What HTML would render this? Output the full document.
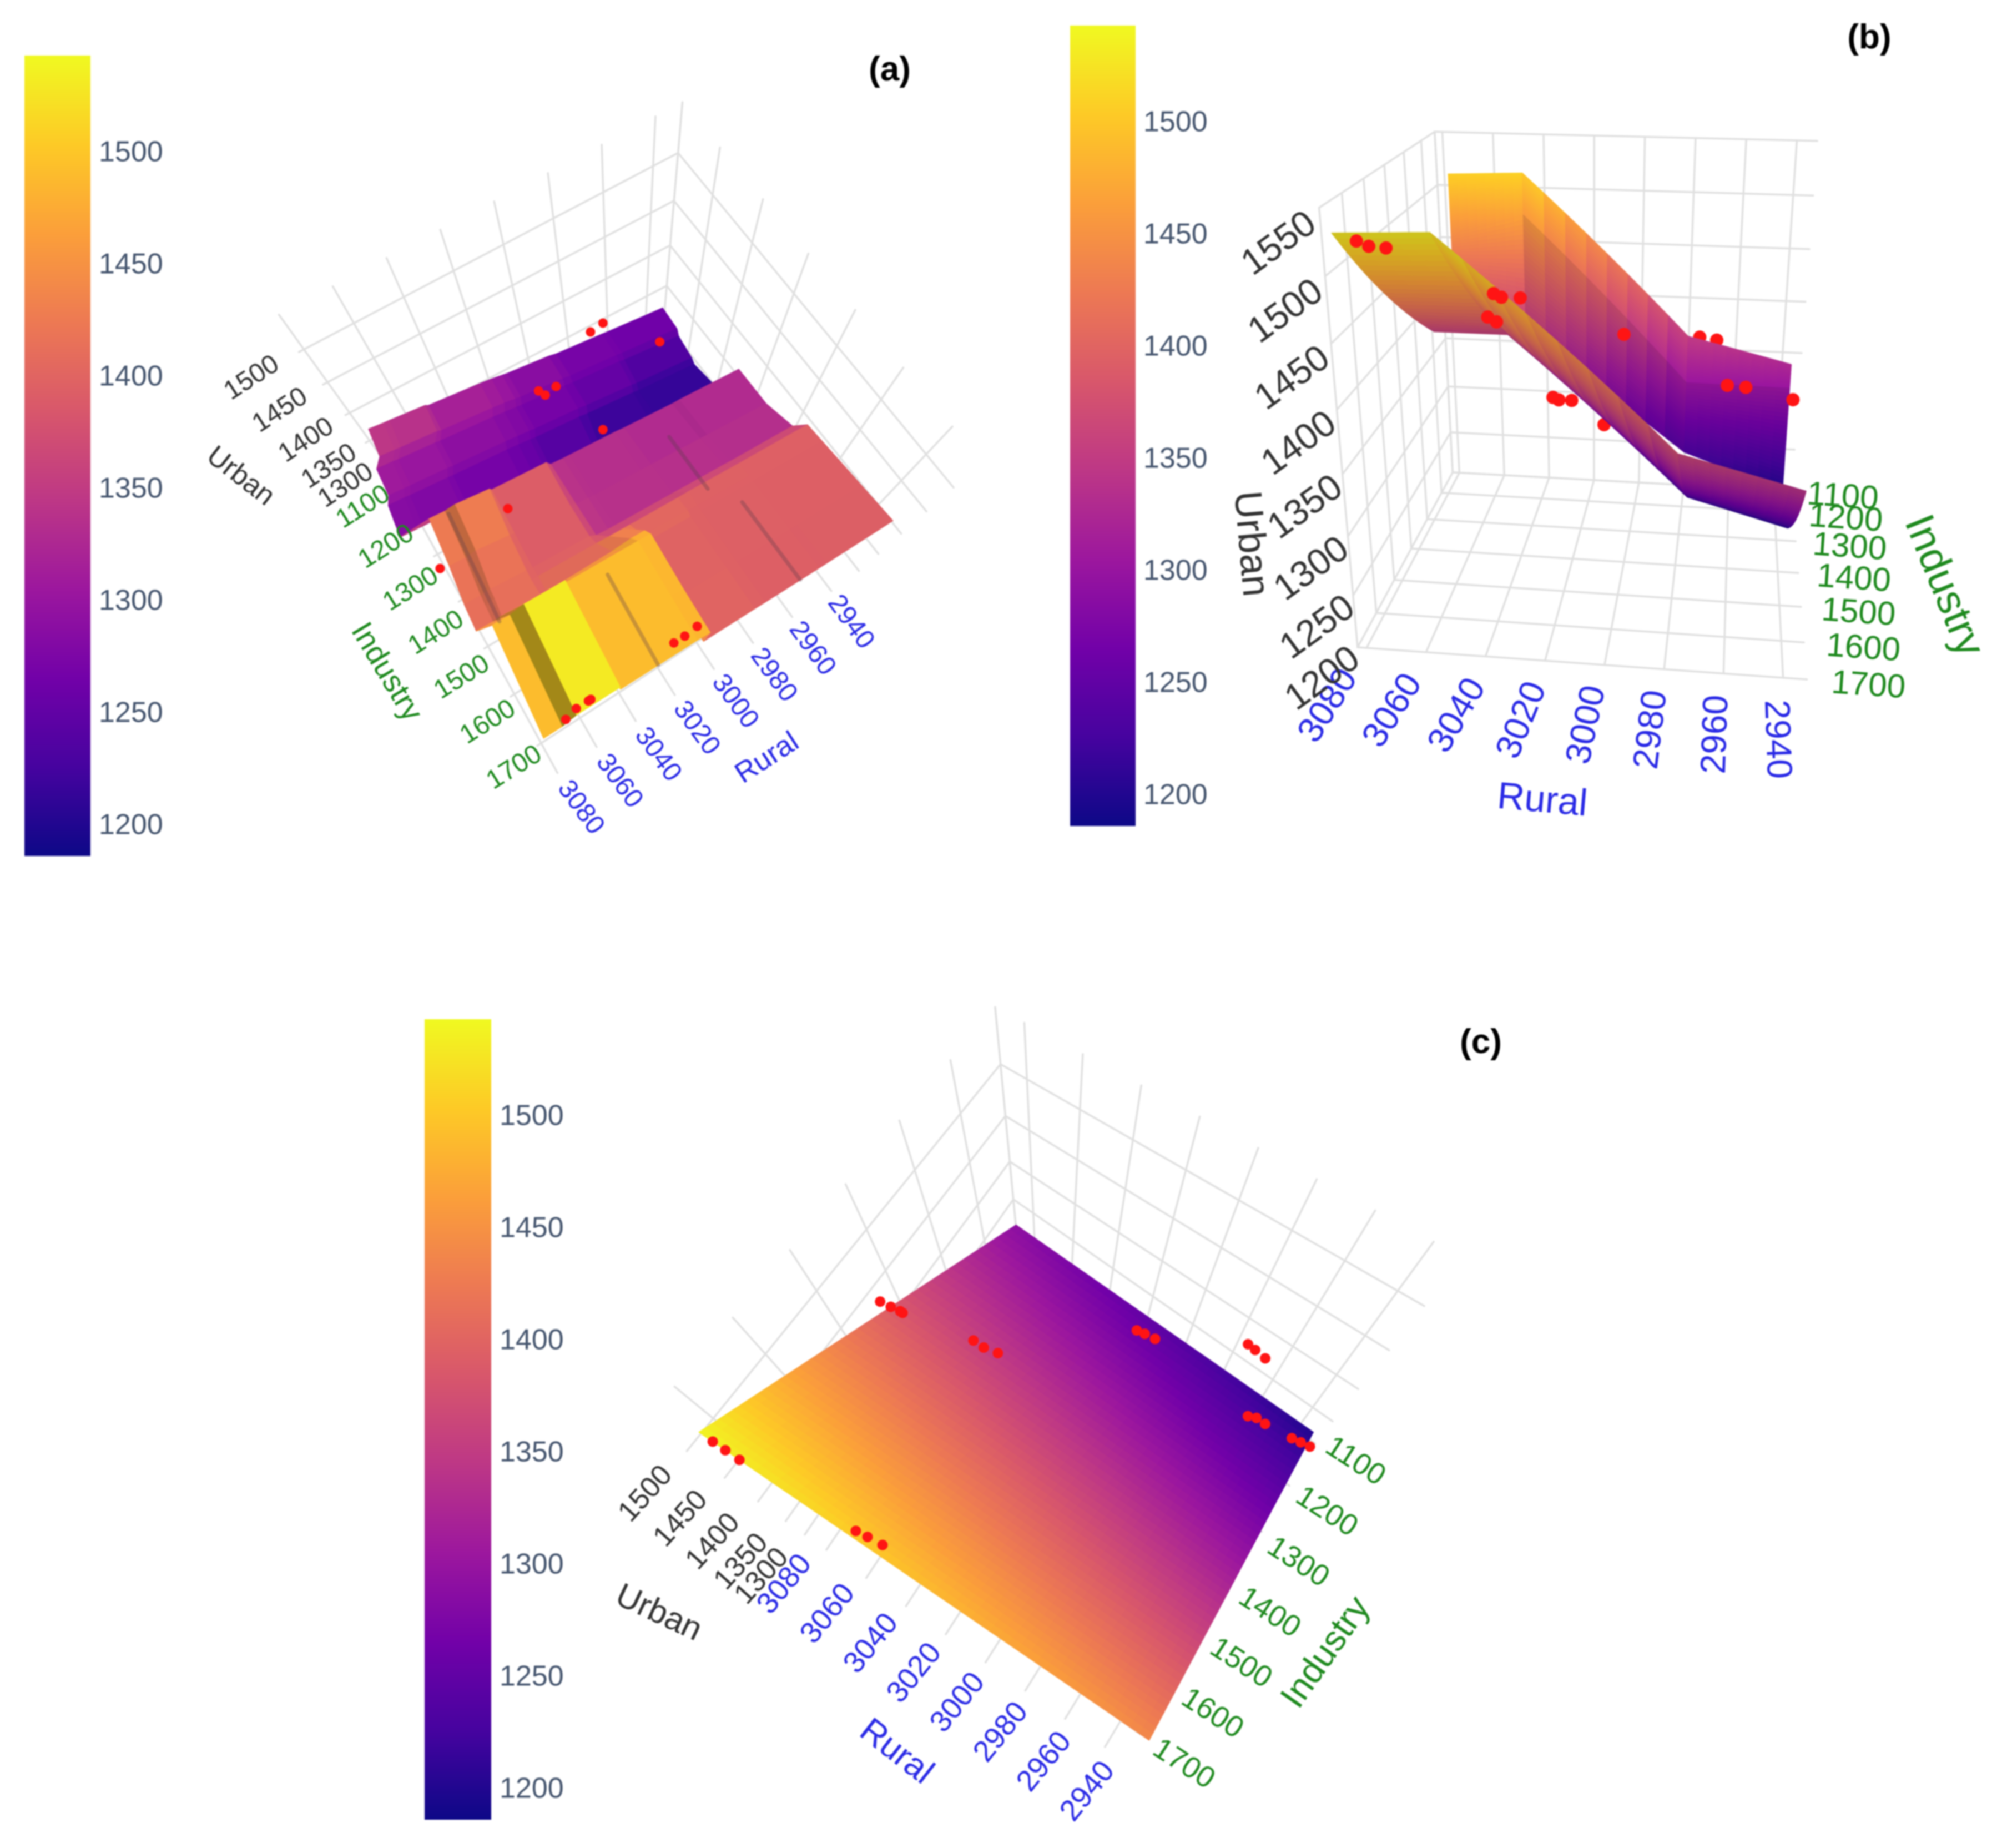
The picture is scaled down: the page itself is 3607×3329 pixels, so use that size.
<!DOCTYPE html>
<html lang="en">
<head>
<meta charset="utf-8">
<title>Urban, Rural and Industry response surfaces</title>
<style>
html,body{margin:0;padding:0;background:#fff;width:3607px;height:3329px;overflow:hidden}
svg{display:block;filter:blur(1.3px);font-family:"Liberation Sans",sans-serif}
</style>
</head>
<body>
<svg id="chart" xmlns="http://www.w3.org/2000/svg" width="3607" height="3329" viewBox="0 0 3607 3329">
<defs>
<linearGradient id="plasma-gradient" x1="0" y1="1" x2="0" y2="0">
<stop offset="0" stop-color="#0d0887"/><stop offset="0.111" stop-color="#46039f"/><stop offset="0.222" stop-color="#7201a8"/><stop offset="0.333" stop-color="#9c179e"/><stop offset="0.444" stop-color="#bd3786"/><stop offset="0.556" stop-color="#d8576b"/><stop offset="0.667" stop-color="#ed7953"/><stop offset="0.778" stop-color="#fb9f3a"/><stop offset="0.889" stop-color="#fdca26"/><stop offset="1" stop-color="#f0f921"/>
</linearGradient>
</defs>
<rect x="0" y="0" width="3607" height="3329" fill="#ffffff"/>
<g id="root"></g>
</svg>
<script>
// ---- axis ticks ----
const colorbarTicks=[1200,1250,1300,1350,1400,1450,1500];
const ruralTicks=[3080,3060,3040,3020,3000,2980,2960,2940];
const industryTicks=[1100,1200,1300,1400,1500,1600,1700];
const urbanTicksA=[1300,1350,1400,1450,1500];
const urbanTicksB=[1200,1250,1300,1350,1400,1450,1500,1550];
const urbanTicksC=[1300,1350,1400,1450,1500];

// ---- panel (a): stepped surface ----
const aRural=[3085,3077.5,3074.5,3056.5,3053.5,3028,3022,3016,3013,2992,2987.5,2965,2962,2935];
const aIndustry=[1100,1148,1160,1208,1220,1274,1286,1370,1436,1454,1484,1496,1610,1700];
const aUrban=[
[1350,1345,1345,1338,1322,1315,1310,1300,1295,1285,1275,1272,1270,1268],
[1345,1340,1338,1332,1320,1310,1305,1295,1290,1280,1270,1265,1262,1255],
[1310,1310,1305,1300,1295,1290,1285,1280,1275,1270,1262,1258,1252,1240],
[1310,1305,1305,1300,1295,1285,1280,1275,1270,1262,1255,1240,1232,1220],
[1290,1290,1285,1280,1275,1270,1265,1258,1252,1245,1238,1225,1218,1210],
[1280,1280,1278,1275,1270,1262,1255,1248,1240,1225,1205,1210,1212,1215],
[1430,1425,1445,1420,1395,1390,1340,1335,1335,1335,1330,1325,1330,1335],
[1425,1420,1440,1405,1395,1385,1345,1338,1335,1335,1335,1330,1330,1325],
[1415,1410,1425,1400,1395,1390,1350,1340,1340,1340,1340,1340,1338,1345],
[1415,1410,1425,1400,1400,1400,1395,1395,1395,1395,1400,1395,1395,1395],
[1415,1410,1420,1405,1400,1440,1470,1470,1420,1400,1395,1395,1395,1395],
[1490,1490,1530,1530,1490,1490,1490,1485,1400,1395,1395,1395,1395,1395],
[1490,1490,1530,1530,1490,1490,1490,1480,1400,1398,1395,1392,1392,1395],
[1490,1490,1530,1530,1490,1490,1490,1480,1400,1398,1395,1392,1392,1395]];
const aStreakRural=[3038,2973,2975,3076];
const aStreakStart=[1520,1520,1340,1292];
const aStreakEnd=[1700,1700,1460,1490];
const aStreakUrban=[1490,1395,1335,1420];
const aPointRural=[2977,2970,3011,3009.5,3003.5,2997,3047,3082,2955,3064,3059,3054,3053,3018,3013.5,3008];
const aPointIndustry=[1100,1094,1160,1172,1166,1274,1322,1358,1172,1682,1676,1676,1676,1670,1670,1667];
const aPointUrban=[1350,1350,1350,1350,1350,1350,1350,1350,1350,1350,1350,1350,1350,1350,1350,1350];

// ---- panel (b): piecewise sheets ----
const bBackRural=[3080.5,3051,2983,2939];
const bBackTop=[1507,1510,1350,1326];
const bBackMid=[1445,1467,1303,1302];
const bBackLow=[1380,1347,1233,1200];
const bFrontRural=[3082,3053.5,2980,2939.5];
const bFrontUrban=[1530,1532,1366,1342];
const bLowerRural=[3085,3055,2980,2938];
const bLowerIndustry=[1160,1160,1190,1220];
const bLowerUrban=[1358,1358,1215,1200];
const bHiddenRural=[2976,2970,3027.7,3025.6,3021,3009.4];
const bHiddenIndustry=[1400,1400,1400,1400,1400,1400];
const bHiddenUrban=[1410,1408,1352,1350,1350,1330];
const bPointRural=[3075,3071.5,3066.5,3047.7,3045,3038.5,3050,3047,3002.5,2965.6,2959,2942];
const bPointIndustry=[1700,1700,1700,1400,1400,1400,1400,1400,1400,1400,1400,1400];
const bPointUrban=[1524,1520,1519,1442,1439,1439,1421,1417,1410,1369,1368,1359];

// ---- panel (c): plane ----
const cRural=[3085,2935];
const cIndustry=[1100,1700];
const cUrban=[[1290,1200],[1540,1440]];
const cPointRural=[3080.4,3076.2,3071.5,3034.5,3031,3026.4,3088.8,3085,3081.7,3080.7,3057,3052.6,3047.7,3017.8,3014.5,3010,2978.5,2974.5,2968.8,2961.3,2958,2953.8,2941.6,2937.6,2933.5];
const cPointIndustry=[1700,1700,1700,1688,1685,1682,1340,1337,1334,1334,1304,1304,1298,1130,1127,1124,1040,1041,1043,1142,1136,1136,1130,1127,1124];
const cPointUrban=[1537,1535,1532,1505,1501,1497,1392,1389,1386,1385,1358,1356,1350,1262,1259,1255,1201,1199,1196,1233,1229,1226,1216,1213,1209];

// ---- colour scale ----
const plasmaStops=[[13,8,135],[70,3,159],[114,1,168],[156,23,158],[189,55,134],[216,87,107],[237,121,83],[251,159,58],[253,202,38],[240,249,33]];
const colorMin=1186, colorMax=1543;
function colorOf(z,shade){
  let f=(z-colorMin)/(colorMax-colorMin);
  f=Math.max(0,Math.min(1,f))*(plasmaStops.length-1);
  const i=Math.min(plasmaStops.length-2,Math.floor(f)), t=f-i;
  const s=shade===undefined?1:shade;
  const c=[0,1,2].map(k=>Math.round((plasmaStops[i][k]*(1-t)+plasmaStops[i+1][k]*t)*s));
  return 'rgb('+c.join(',')+')';
}

const SVGNS='http://www.w3.org/2000/svg';
const root=document.getElementById('root');
function mk(parent,tag,attrs,name){
  const el=document.createElementNS(SVGNS,tag);
  for(const k in attrs) el.setAttribute(k,attrs[k]);
  
  
  parent.appendChild(el);
  return el;
}
function lerp(a,b,t){return a+(b-a)*t;}
function mix(p,q,t){return [lerp(p[0],q[0],t),lerp(p[1],q[1],t)];}

const GRID='#e0e0e0', BLUE='#2a2ae6', GREEN='#1f8a1f', DARK='#333333';

// ---- panel geometry ----
const panelA={
  ox:350,oy:180,sx:1.12,sy:1.161,wallU:1,
  c000:[395,786],c100:[945,490],c010:[725,1413],c110:[1325,1000],
  c001:[160,455],c101:[985,5],c011:[300,1200],c111:[1590,758],
  rural:[3082,2930],ruralGrid:[3082,2930],industry:[1100,1760],urban:[1270,1550],warpI:1.1,warpZ:1.25,
  urbanTicks:urbanTicksA,
  ruralLabel:{from:[781,1479],to:[1326,1091],e:1,angle:[54,54,54,54,54,54,54,54],size:48},
  industryLabel:{from:[340,850],to:[645,1395],e:1.05,angle:-32,size:48},
  urbanLabel:{from:[305,805],to:[115,580],e:1.25,angle:-33,size:48},
  titles:{rural:[1155,1375,-33,52],industry:[390,1195,59,55],urban:[95,785,38,51]},
  surface:{s0t0:[351.75,688.25],s1t0:[973.7,406.3],s0t1:[656,1384],s1t1:[1394,895.75],relief:[0.35,-0.35]}
};
const panelB={
  ox:2150,oy:200,sx:1.081,sy:1.206,wallU:0,
  c000:[505,785],c100:[1165,825],c010:[320,1165],c110:[1195,1235],
  c001:[470,45],c101:[1215,65],c011:[245,210],c111:[1260,230],
  rural:[3085,2935],ruralGrid:[3083,2932],industry:[1100,1700],urban:[1200,1550],warpI:1.2,warpZ:1.1,
  urbanTicks:urbanTicksB,
  ruralLabel:{from:[260,1290],to:[1140,1365],e:1,angle:[-58,-58,-60,-68,-78,-83,-88,88],size:64},
  industryLabel:{from:[1265,835],to:[1315,1245],e:1.2,angle:4,size:60},
  urbanLabel:{from:[250,1230],to:[165,285],e:1.1,angle:-36,size:66},
  titles:{rural:[680,1495,5,68],industry:[1465,1030,68,75],urban:[115,940,85,70]}
};
const panelC={
  ox:1050,oy:1800,sx:0.98,sy:1.045,wallU:0,
  c000:[765,430],c100:[1290,840],c010:[395,1010],c110:[957,1434],
  c001:[728,15],c101:[1554,486],c011:[110,795],c111:[1000,1000],
  rural:[3090,2930],ruralGrid:[3090,2930],industry:[1100,1750],urban:[1290,1550],warpI:1.1,warpZ:1.4,
  urbanTicks:urbanTicksC,
  ruralLabel:{from:[355,1100],to:[890,1490],e:1,angle:[-51,-51,-51,-51,-51,-51,-51,-51],size:54},
  industryLabel:{from:[1365,868],to:[1062,1438],e:1,angle:33,size:54},
  urbanLabel:{from:[315,1085],to:[110,930],e:1.25,angle:-48,size:52},
  titles:{rural:[555,1415,38,62],industry:[1310,1228,-55,64],urban:[135,1153,25,60]},
  surface:{s0t0:[765,422],s1t0:[1290,807.5],s0t1:[205,824.5],s1t1:[1000,1399.5],relief:[0,-0.05]}
};

// ---- axis functions ----
function toPage(p,pt){return [p.ox+pt[0]/p.sx,p.oy+pt[1]/p.sy];}
function cube(p,u,v,w){
  const b=mix(mix(p.c000,p.c100,u),mix(p.c010,p.c110,u),v);
  const t=mix(mix(p.c001,p.c101,u),mix(p.c011,p.c111,u),v);
  return toPage(p,mix(b,t,w));
}
function uAxis(p,r){return (p.rural[0]-r)/(p.rural[0]-p.rural[1]);}
function vAxis(p,i){return (i-p.industry[0])/(p.industry[1]-p.industry[0]);}
function wAxis(p,z){return (z-p.urban[0])/(p.urban[1]-p.urban[0]);}
function uTick(p,r){return (p.ruralGrid[0]-r)/(p.ruralGrid[0]-p.ruralGrid[1]);}
function vTick(p,i){return Math.pow(Math.max(0,vAxis(p,i)),p.warpI);}
function wTick(p,z){return Math.pow(Math.max(0,wAxis(p,z)),p.warpZ);}
function plot3D(p,r,i,z){return cube(p,uAxis(p,r),vAxis(p,i),wAxis(p,z));}
function plotSurface(p,r,i,z){
  const S=p.surface, s=(3085-r)/150, t=(i-1100)/600;
  const q=mix(mix(S.s0t0,S.s1t0,s),mix(S.s0t1,S.s1t1,s),t);
  return toPage(p,[q[0]+S.relief[0]*(z-1350),q[1]+S.relief[1]*(z-1350)]);
}

// ---- drawing helpers ----
function seg(g,a,b,name){
  mk(g,'line',{x1:a[0].toFixed(1),y1:a[1].toFixed(1),x2:b[0].toFixed(1),y2:b[1].toFixed(1),stroke:GRID,'stroke-width':3.5,'stroke-linecap':'round'},name);
}
function drawGrid(parent,p){
  const g=mk(parent,'g',{},'grid-lines');
  const W=p.wallU;
  ruralTicks.forEach(r=>{
    const u=uTick(p,r);
    seg(g,cube(p,u,0,0),cube(p,u,1,0),'floor-gridline-rural');
    seg(g,cube(p,u,0,0),cube(p,u,0,1),'wall-gridline-rural');
  });
  industryTicks.forEach(i=>{
    const v=vTick(p,i);
    seg(g,cube(p,0,v,0),cube(p,1,v,0),'floor-gridline-industry');
    seg(g,cube(p,W,v,0),cube(p,W,v,1),'wall-gridline-industry');
  });
  p.urbanTicks.forEach(z=>{
    const w=wTick(p,z);
    seg(g,cube(p,0,0,w),cube(p,1,0,w),'wall-gridline-urban');
    seg(g,cube(p,W,0,w),cube(p,W,1,w),'wall-gridline-urban');
  });
  seg(g,cube(p,W,0,0),cube(p,W,0,1),'back-edge');
}
function label(g,pt,str,angle,size,color,name){
  const t=mk(g,'text',{x:pt[0].toFixed(1),y:pt[1].toFixed(1),'text-anchor':'middle','dominant-baseline':'central','font-size':size,fill:color,transform:'rotate('+angle+' '+pt[0].toFixed(1)+' '+pt[1].toFixed(1)+')'},name);
  t.textContent=str;
}
function drawAxisLabels(parent,p){
  const g=mk(parent,'g',{},'axis-labels');
  const place=(L,t)=>toPage(p,mix(L.from,L.to,Math.pow(t,L.e)));
  ruralTicks.forEach((r,k)=>{
    const t=(r-ruralTicks[0])/(ruralTicks[ruralTicks.length-1]-ruralTicks[0]);
    label(g,place(p.ruralLabel,t),String(r),p.ruralLabel.angle[k],p.ruralLabel.size,BLUE,'rural-tick-label');
  });
  industryTicks.forEach(i=>{
    const t=(i-industryTicks[0])/(industryTicks[industryTicks.length-1]-industryTicks[0]);
    label(g,place(p.industryLabel,t),String(i),p.industryLabel.angle,p.industryLabel.size,GREEN,'industry-tick-label');
  });
  p.urbanTicks.forEach(z=>{
    const T=p.urbanTicks, t=(z-T[0])/(T[T.length-1]-T[0]);
    label(g,place(p.urbanLabel,t),String(z),p.urbanLabel.angle,p.urbanLabel.size,DARK,'urban-tick-label');
  });
  const a=p.titles;
  label(g,toPage(p,a.rural),'Rural',a.rural[2],a.rural[3],BLUE,'rural-axis-title');
  label(g,toPage(p,a.industry),'Industry',a.industry[2],a.industry[3],GREEN,'industry-axis-title');
  label(g,toPage(p,a.urban),'Urban',a.urban[2],a.urban[3],DARK,'urban-axis-title');
}
function quad(g,pts,fill){
  const s=pts.map(q=>q[0].toFixed(1)+','+q[1].toFixed(1)).join(' ');
  mk(g,'polygon',{points:s,fill:fill,stroke:fill,'stroke-width':1.4,'stroke-linejoin':'round'},'surface-cell');
}
function dots(parent,xyFn,rs,is,zs,radius,name){
  const g=mk(parent,'g',{},name);
  rs.forEach((r,k)=>{
    const q=xyFn(r,is[k],zs[k]);
    mk(g,'circle',{cx:q[0].toFixed(1),cy:q[1].toFixed(1),r:radius,fill:'#ff1414'},'data-point');
  });
}
function drawColorbar(x,y,w,h,labelX){
  const g=mk(root,'g',{},'colorbar');
  mk(g,'rect',{x:x,y:y,width:w,height:h,fill:'url(#plasma-gradient)'},'colorbar-gradient');
  colorbarTicks.forEach(z=>{
    const yy=y+(colorMax-z)/(colorMax-colorMin)*h;
    const t=mk(g,'text',{x:labelX,y:yy.toFixed(1),'dominant-baseline':'central','font-size':52,fill:'#46566f'},'colorbar-tick-label');
    t.textContent=String(z);
  });
}

// ---- colorbars ----
drawColorbar(44,100,119,1442,178);
drawColorbar(1928,46,118,1442,2060);
drawColorbar(765,1836,120,1442,900);

// ---- panel (a) ----
(function(){
  const p=panelA, g=mk(root,'g',{},'plot-a');
  drawGrid(g,p);
  const s=mk(g,'g',{},'surface-a');
  for(let j=0;j<aIndustry.length-1;j++){
    for(let k=aRural.length-2;k>=0;k--){
      const z00=aUrban[j][k],z01=aUrban[j][k+1],z10=aUrban[j+1][k],z11=aUrban[j+1][k+1];
      const slope=(z01+z11-z00-z10)/2/(aRural[k]-aRural[k+1]);
      const shade=1-Math.min(0.35,Math.max(0,slope)*0.03);
      quad(s,[plotSurface(p,aRural[k],aIndustry[j],z00),plotSurface(p,aRural[k+1],aIndustry[j],z01),plotSurface(p,aRural[k+1],aIndustry[j+1],z11),plotSurface(p,aRural[k],aIndustry[j+1],z10)],colorOf((z00+z01+z10+z11)/4,shade));
    }
  }
  aStreakRural.forEach((r,k)=>{
    const a=plotSurface(p,r,aStreakStart[k],aStreakUrban[k]);
    const b=plotSurface(p,r,aStreakEnd[k],aStreakUrban[k]);
    mk(s,'line',{x1:a[0].toFixed(1),y1:a[1].toFixed(1),x2:b[0].toFixed(1),y2:b[1].toFixed(1),stroke:'#5a3a4a','stroke-opacity':0.32,'stroke-width':7,'stroke-linecap':'round'},'surface-streak');
  });
  dots(g,(r,i,z)=>plotSurface(p,r,i,z),aPointRural,aPointIndustry,aPointUrban,8.5,'scatter-points-a');
  drawAxisLabels(g,p);
})();

// ---- panel (b) ----
function drawSheet(g,p,rA,iA,zA,rB,iB,zB,shades){
  const along=8, across=24;
  for(let k=0;k<rA.length-1;k++){
    const shade=shades[k];
    for(let m=0;m<along;m++){
      const t0=m/along,t1=(m+1)/along;
      for(let n=0;n<across;n++){
        const c0=n/across,c1=(n+1)/across;
        const at=(t,c)=>{
          const r=lerp(lerp(rA[k],rA[k+1],t),lerp(rB[k],rB[k+1],t),c);
          const i=lerp(lerp(iA[k],iA[k+1],t),lerp(iB[k],iB[k+1],t),c);
          const z=lerp(lerp(zA[k],zA[k+1],t),lerp(zB[k],zB[k+1],t),c);
          return [plot3D(p,r,i,z),z];
        };
        const a=at(t0,c0),b=at(t1,c0),c=at(t1,c1),d=at(t0,c1);
        quad(g,[a[0],b[0],c[0],d[0]],colorOf((a[1]+b[1]+c[1]+d[1])/4,shade));
      }
    }
  }
}
(function(){
  const p=panelB, g=mk(root,'g',{},'plot-b');
  drawGrid(g,p);
  dots(g,(r,i,z)=>plot3D(p,r,i,z),bHiddenRural,bHiddenIndustry,bHiddenUrban,12,'scatter-points-b-behind');
  const s1=mk(g,'g',{},'surface-b-back-sheet');
  const flat=bBackRural.map(()=>1100);
  drawSheet(s1,p,bBackRural,flat,bBackTop,bBackRural,flat,bBackMid,[1,1,1]);
  drawSheet(s1,p,bBackRural,flat,bBackMid,bBackRural,flat,bBackLow,[1,0.9,0.92]);
  const s2=mk(g,'g',{},'surface-b-front-sheet');
  const front=bFrontRural.map(()=>1700);
  drawSheet(s2,p,bFrontRural,front,bFrontUrban,bLowerRural,bLowerIndustry,bLowerUrban,[0.84,0.84,0.84]);
  dots(g,(r,i,z)=>plot3D(p,r,i,z),bPointRural,bPointIndustry,bPointUrban,12,'scatter-points-b');
  drawAxisLabels(g,p);
})();

// ---- panel (c) ----
(function(){
  const p=panelC, g=mk(root,'g',{},'plot-c');
  drawGrid(g,p);
  const s=mk(g,'g',{},'surface-c');
  const N=48;
  for(let a=0;a<N;a++){
    for(let b=0;b<N;b++){
      const at=(x,y)=>{
        const r=lerp(cRural[0],cRural[1],x/N), i=lerp(cIndustry[0],cIndustry[1],y/N);
        const z=lerp(lerp(cUrban[0][0],cUrban[0][1],x/N),lerp(cUrban[1][0],cUrban[1][1],x/N),y/N);
        return [plotSurface(p,r,i,z),z];
      };
      const q0=at(a,b),q1=at(a+1,b),q2=at(a+1,b+1),q3=at(a,b+1);
      quad(s,[q0[0],q1[0],q2[0],q3[0]],colorOf((q0[1]+q1[1]+q2[1]+q3[1])/4));
    }
  }
  dots(g,(r,i,z)=>plotSurface(p,r,i,z),cPointRural,cPointIndustry,cPointUrban,9.5,'scatter-points-c');
  drawAxisLabels(g,p);
})();

// ---- panel letters ----
[['(a)',1603,145,'panel-label-a'],['(b)',3368,87,'panel-label-b'],['(c)',2668,1897,'panel-label-c']].forEach(d=>{
  const t=mk(root,'text',{x:d[1],y:d[2],'text-anchor':'middle','font-size':62,'font-weight':'bold',fill:'#000'},d[3]);
  t.textContent=d[0];
});
</script>
</body>
</html>
